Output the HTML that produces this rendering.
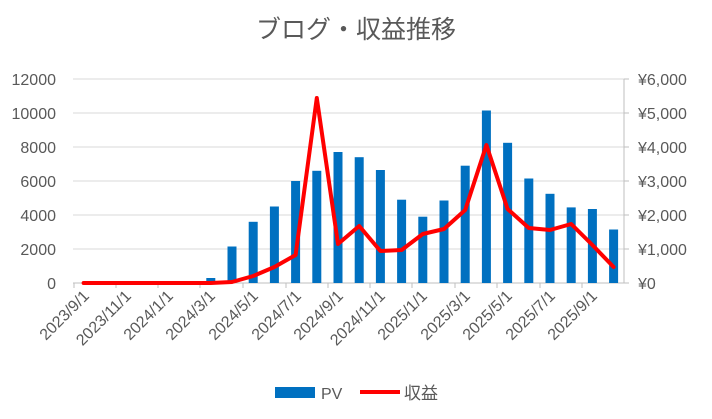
<!DOCTYPE html><html><head><meta charset="utf-8"><style>body{margin:0;background:#fff}svg{display:block}text{font-family:"Liberation Sans","Noto Sans CJK JP",sans-serif}</style></head><body>
<svg width="712" height="419" viewBox="0 0 712 419">
<rect width="712" height="419" fill="#fff"/>
<text x="356" y="38" text-anchor="middle" font-size="25" fill="#595959">ブログ・収益推移</text>
<g stroke="#d9d9d9" stroke-width="1">
<line x1="73" y1="79" x2="624" y2="79"/><line x1="73" y1="113" x2="624" y2="113"/><line x1="73" y1="147" x2="624" y2="147"/><line x1="73" y1="181" x2="624" y2="181"/><line x1="73" y1="215" x2="624" y2="215"/><line x1="73" y1="249" x2="624" y2="249"/>
<line x1="73" y1="283" x2="624" y2="283" stroke="#bfbfbf"/>
<line x1="624" y1="79" x2="624" y2="283" stroke="#bfbfbf"/>
</g>
<g stroke="#bfbfbf"><line x1="624" y1="79" x2="629" y2="79"/><line x1="624" y1="113" x2="629" y2="113"/><line x1="624" y1="147" x2="629" y2="147"/><line x1="624" y1="181" x2="629" y2="181"/><line x1="624" y1="215" x2="629" y2="215"/><line x1="624" y1="249" x2="629" y2="249"/><line x1="624" y1="283" x2="629" y2="283"/>
<line x1="74" y1="283" x2="74" y2="288"/><line x1="116" y1="283" x2="116" y2="288"/><line x1="158" y1="283" x2="158" y2="288"/><line x1="200" y1="283" x2="200" y2="288"/><line x1="243" y1="283" x2="243" y2="288"/><line x1="286" y1="283" x2="286" y2="288"/><line x1="328" y1="283" x2="328" y2="288"/><line x1="370" y1="283" x2="370" y2="288"/><line x1="412" y1="283" x2="412" y2="288"/><line x1="455" y1="283" x2="455" y2="288"/><line x1="497" y1="283" x2="497" y2="288"/><line x1="540" y1="283" x2="540" y2="288"/><line x1="582" y1="283" x2="582" y2="288"/></g>
<g font-size="16" fill="#595959" text-anchor="end">
<text x="56" y="85">12000</text><text x="56" y="119">10000</text><text x="56" y="153">8000</text><text x="56" y="187">6000</text><text x="56" y="221">4000</text><text x="56" y="255">2000</text><text x="56" y="289">0</text>
</g>
<g font-size="16" fill="#595959">
<text x="638" y="85">¥6,000</text><text x="638" y="119">¥5,000</text><text x="638" y="153">¥4,000</text><text x="638" y="187">¥3,000</text><text x="638" y="221">¥2,000</text><text x="638" y="255">¥1,000</text><text x="638" y="289">¥0</text>
</g>
<g font-size="16" fill="#595959" text-anchor="end">
<text transform="translate(90,297) rotate(-45)">2023/9/1</text>
<text transform="translate(132,297) rotate(-45)">2023/11/1</text>
<text transform="translate(174,297) rotate(-45)">2024/1/1</text>
<text transform="translate(216,297) rotate(-45)">2024/3/1</text>
<text transform="translate(259,297) rotate(-45)">2024/5/1</text>
<text transform="translate(302,297) rotate(-45)">2024/7/1</text>
<text transform="translate(344,297) rotate(-45)">2024/9/1</text>
<text transform="translate(386,297) rotate(-45)">2024/11/1</text>
<text transform="translate(428,297) rotate(-45)">2025/1/1</text>
<text transform="translate(471,297) rotate(-45)">2025/3/1</text>
<text transform="translate(513,297) rotate(-45)">2025/5/1</text>
<text transform="translate(556,297) rotate(-45)">2025/7/1</text>
<text transform="translate(598,297) rotate(-45)">2025/9/1</text>
</g>
<g fill="#0070c0">
<rect x="206.3" y="278" width="9" height="5"/>
<rect x="227.5" y="246.5" width="9" height="36.5"/>
<rect x="248.7" y="221.8" width="9" height="61.2"/>
<rect x="269.9" y="206.5" width="9" height="76.5"/>
<rect x="291.1" y="181" width="9" height="102"/>
<rect x="312.3" y="170.8" width="9" height="112.2"/>
<rect x="333.5" y="152" width="9" height="131"/>
<rect x="354.7" y="157.2" width="9" height="125.8"/>
<rect x="375.9" y="170" width="9" height="113"/>
<rect x="397.1" y="199.7" width="9" height="83.3"/>
<rect x="418.3" y="216.7" width="9" height="66.3"/>
<rect x="439.5" y="200.5" width="9" height="82.5"/>
<rect x="460.7" y="165.7" width="9" height="117.3"/>
<rect x="481.9" y="110.5" width="9" height="172.5"/>
<rect x="503.1" y="142.8" width="9" height="140.2"/>
<rect x="524.3" y="178.5" width="9" height="104.5"/>
<rect x="545.5" y="193.8" width="9" height="89.2"/>
<rect x="566.7" y="207.4" width="9" height="75.6"/>
<rect x="587.9" y="209" width="9" height="74"/>
<rect x="609.1" y="229.5" width="9" height="53.5"/>
</g>
<polyline fill="none" stroke="#ff0000" stroke-width="4" stroke-linejoin="round" stroke-linecap="round"
points="83.6,283 104.8,283 126,283 147.2,283 168.4,283 189.6,283 210.8,283 232,282 253.2,276 274.4,267 295.6,255 316.8,98 338,244 359.2,226 380.4,251 401.6,250 422.8,234 444,229 465.2,210 486.4,145 507.6,209 528.8,228 550,230 571.2,224 592.4,245 613.6,267"/>
<rect x="275" y="387" width="40" height="11" fill="#0070c0"/>
<text x="321" y="399" font-size="16" fill="#595959">PV</text>
<line x1="360" y1="392" x2="400" y2="392" stroke="#ff0000" stroke-width="4"/>
<text x="404" y="399" font-size="17" fill="#595959">収益</text>
</svg></body></html>
